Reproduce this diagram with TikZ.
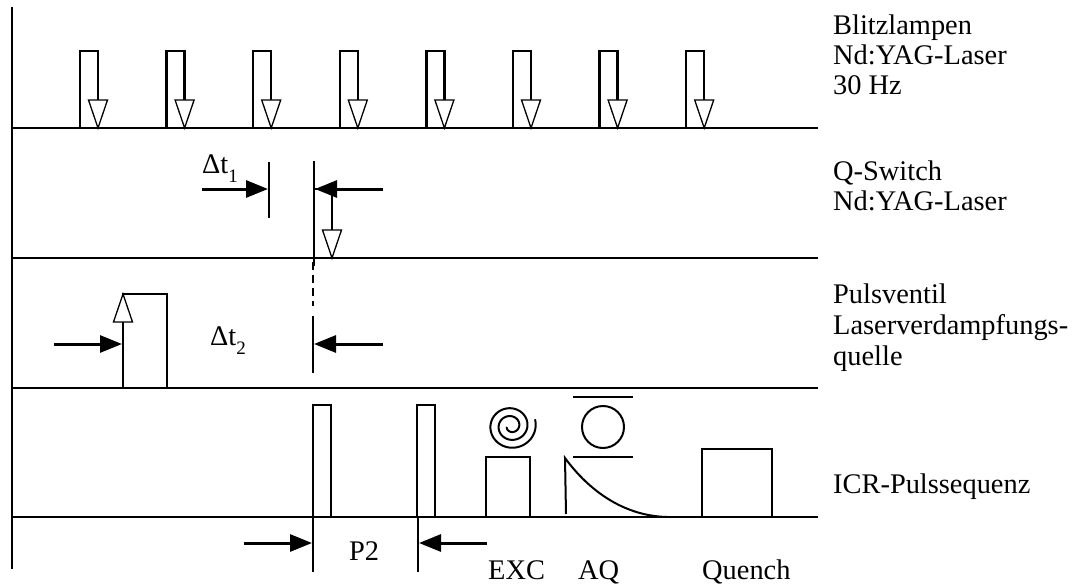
\documentclass[tikz,border=0pt]{standalone}
\usepackage{fontspec}
\setmainfont{Liberation Serif}
\usetikzlibrary{arrows.meta}

\tikzset{
  lbl/.style={inner sep=0pt, anchor=base west, font=\fontsize{28.4}{30}\selectfont},
  lblc/.style={inner sep=0pt, anchor=base, font=\fontsize{28.4}{30}\selectfont},
  trace/.style={line width=2.4pt, line join=miter},
  tick/.style={line width=1.4pt},
  dimarrow/.style={line width=3pt, -{Triangle[length=22pt,width=17pt]}},
  openhead/.pic={\draw[fill=white, line width=1.3pt, line join=miter] (-9.5,-28) -- (9.5,-28) -- (0,0) -- cycle;}
}
\newcommand{\subidx}[1]{\raisebox{-9pt}{\fontsize{19}{19}\selectfont #1}}

\begin{document}
\begin{tikzpicture}[x=1pt, y=-1pt]
\useasboundingbox (0,0) rectangle (1077,586);

% time axis and the four trace baselines
\draw[trace] (12,7) -- (12,569);
\foreach \yb in {128,258,388,517}
  \draw[trace] (12,\yb) -- (818,\yb);

% flash lamp pulses, 30 Hz
\foreach \i in {0,...,7} {
  \pgfmathsetmacro{\xa}{80+86.6*\i}
  \draw[trace] (\xa,128) -- (\xa,51) -- ({\xa+18},51) -- ({\xa+18},100);
  \pic at ({\xa+18},128) {openhead};
}

% Q-switch pulse and delay dt1
\draw[tick] (269,162) -- (269,218);
\draw[tick] (314,161) -- (314,266);
\draw[trace] (314,258) -- (314,189) -- (332,189) -- (332,232);
\pic at (332,258) {openhead};
\coordinate (d1a) at (202,189);
\coordinate (d1b) at (268,189);
\coordinate (d1c) at (383,189);
\coordinate (d1d) at (315,189);
\draw[dimarrow] (d1a) -- (d1b);
\draw[dimarrow] (d1c) -- (d1d);
\node[lbl] (dt1) at (202,173) {Δt\subidx{1}};

% pulsed valve and delay dt2
\draw[line width=2pt, dash pattern=on 8pt off 5pt] (313,262) -- (313,306);
\draw[tick] (313,316) -- (313,373);
\draw[trace] (123,388) -- (123,294) -- (167,294) -- (167,388);
\draw[line width=1.6pt] (123,388) -- (123,322);
\pic[rotate=180] at (123,294) {openhead};
\coordinate (d2a) at (54,344);
\coordinate (d2b) at (122,344);
\coordinate (d2c) at (383,344);
\coordinate (d2d) at (314,344);
\draw[dimarrow] (d2a) -- (d2b);
\draw[dimarrow] (d2c) -- (d2d);
\node[lbl] (dt2) at (210,345) {Δt\subidx{2}};

% ICR pulse sequence
\draw[trace] (313,517) -- (313,405) -- (331,405) -- (331,517);
\draw[trace] (417,517) -- (417,405) -- (435,405) -- (435,517);
\draw[tick] (313,517) -- (313,572);
\draw[tick] (418,517) -- (418,572);
\coordinate (p2a) at (244,543);
\coordinate (p2b) at (312,543);
\coordinate (p2c) at (487,543);
\coordinate (p2d) at (419,543);
\draw[dimarrow] (p2a) -- (p2b);
\draw[dimarrow] (p2c) -- (p2d);
\node[lblc] (p2) at (364,560) {P2};

% excitation
\draw[trace] (486,517) -- (486,457) -- (530,457) -- (530,517);
\draw[line width=2pt, line cap=round] plot[smooth, samples=220, domain=200:1095]
  ({511 + 25/1095*\x*cos(\x)}, {426 - 24/1095*\x*sin(\x)});

% acquisition: transient decay and detection symbol
\draw[line width=2pt] (566,514) -- (565,458)
  .. controls (590,492) and (625,516) .. (667,517);
\draw[line width=2pt] (603,427) circle (21);
\draw[line width=1.6pt] (573,397) -- (633,397);
\draw[line width=1.6pt] (573,457) -- (633,457);

% quench
\draw[trace] (702,517) -- (702,449) -- (772,449) -- (772,517);

% event labels
\node[lbl] (exc) at (488,579) {EXC};
\node[lbl] (aq) at (578,579) {AQ};
\node[lbl] (quench) at (702,579) {Quench};

% trace labels
\node[lbl] (l1a) at (833,35) {Blitzlampen};
\node[lbl] (l1b) at (833,65) {Nd:YAG-Laser};
\node[lbl] (l1c) at (833,95) {30 Hz};
\node[lbl] (l2a) at (833,180) {Q-Switch};
\node[lbl] (l2b) at (833,210) {Nd:YAG-Laser};
\node[lbl] (l3a) at (833,303) {Pulsventil};
\node[lbl] (l3b) at (833,334) {Laserverdampfungs-};
\node[lbl] (l3c) at (833,365) {quelle};
\node[lbl] (l4) at (833,493) {ICR-Pulssequenz};
\end{tikzpicture}
\end{document}
